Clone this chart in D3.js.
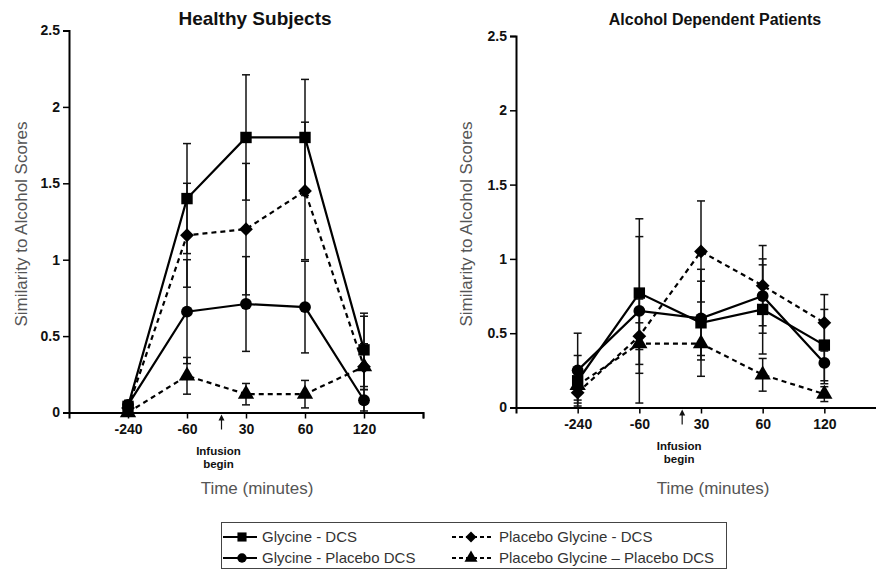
<!DOCTYPE html>
<html>
<head>
<meta charset="utf-8">
<script src="https://cdn.jsdelivr.net/npm/d3@7"></script>
<style>
  body { margin: 0; background: #fff; }
  svg { font-family: "Liberation Sans", Arial, sans-serif; }
</style>
</head>
<body>
<svg id="chart"></svg>
<script>
/* Données */
const timepoints = ['-240', '-60', '30', '60', '120']
const yTicks = [0, 0.5, 1, 1.5, 2, 2.5]
const seriesNames = ['Glycine - DCS', 'Glycine - Placebo DCS', 'Placebo Glycine - DCS', 'Placebo Glycine \u2013 Placebo DCS']

// Healthy subjects : moyennes et erreurs
const hGlyDcs = [0.04, 1.40, 1.80, 1.80, 0.41]
const hGlyDcsErr = [0.03, 0.36, 0.41, 0.38, 0.24]
const hGlyPla = [0.05, 0.66, 0.71, 0.69, 0.08]
const hGlyPlaErr = [0.03, 0.34, 0.31, 0.30, 0.07]
const hPlaDcs = [0.03, 1.16, 1.20, 1.45, 0.30]
const hPlaDcsErr = [0.02, 0.34, 0.43, 0.45, 0.33]
const hPlaPla = [0.00, 0.24, 0.12, 0.12, 0.30]
const hPlaPlaErr = [0.02, 0.12, 0.07, 0.09, 0.15]

// Alcohol dependent patients : moyennes et erreurs
const aGlyDcs = [0.18, 0.77, 0.57, 0.66, 0.42]
const aGlyDcsErr = [0.17, 0.38, 0.36, 0.30, 0.24]
const aGlyPla = [0.25, 0.65, 0.60, 0.75, 0.30]
const aGlyPlaErr = [0.25, 0.62, 0.25, 0.25, 0.14]
const aPlaDcs = [0.10, 0.48, 1.05, 0.82, 0.57]
const aPlaDcsErr = [0.07, 0.25, 0.34, 0.27, 0.19]
const aPlaPla = [0.15, 0.43, 0.43, 0.22, 0.09]
const aPlaPlaErr = [0.10, 0.14, 0.11, 0.11, 0.05]

const width = 876, height = 570

// style de chaque série : trait plein / pointillé, marqueur
const styles = [
  {dash: null, shape: 'square'},
  {dash: null, shape: 'circle'},
  {dash: '5,4', shape: 'diamond'},
  {dash: '5,4', shape: 'triangle'}
]

const svg = d3.select('#chart').attr('width', width).attr('height', height)

/* Dessine un marqueur */
const marker = (g, shape, x, y, k) => {
  let sym
  if (shape === 'square') sym = d3.symbol(d3.symbolSquare, 130 * k * k)
  else if (shape === 'circle') sym = d3.symbol(d3.symbolCircle, 110 * k * k)
  else if (shape === 'diamond') sym = d3.symbol(d3.symbolSquare, 95 * k * k)
  else sym = d3.symbol(d3.symbolTriangle, 115 * k * k)
  g.append('path')
    .attr('d', sym())
    .attr('fill', '#000')
    .attr('transform', 'translate(' + x + ',' + y + ')' + (shape === 'diamond' ? ' rotate(45)' : ''))
}

/* Dessine un panneau complet */
const drawPanel = (p) => {
  const g = svg.append('g')

  const xScale = d3.scaleLinear().domain([0, 6]).range([p.x0, p.x1])
  const yScale = d3.scaleLinear().domain([0, 2.5]).range([p.y0, p.y1])

  // axe y
  const yAxis = d3.axisLeft(yScale)
    .tickValues(yTicks)
    .tickFormat(d3.format('~g'))
    .tickSizeOuter(0)
    .tickSize(6)
  const gy = g.append('g').attr('transform', 'translate(' + p.x0 + ',0)').call(yAxis)
  gy.select('.domain').attr('stroke-width', 2)
  gy.selectAll('.tick line').attr('stroke-width', 1.5)
  gy.selectAll('text').attr('font-size', 14).attr('font-weight', 'bold').attr('fill', '#111')
    .attr('font-family', '"Liberation Sans", Arial, sans-serif')

  // axe x
  const xAxis = d3.axisBottom(xScale)
    .tickValues([1, 2, 3, 4, 5, 6])
    .tickFormat((d) => timepoints[d - 1] || '')
    .tickSizeOuter(0)
    .tickSize(6)
  const gx = g.append('g').attr('transform', 'translate(0,' + p.y0 + ')').call(xAxis)
  gx.select('.domain').attr('stroke-width', 2)
  gx.selectAll('.tick line').attr('stroke-width', 1.5)
  gx.selectAll('text').attr('font-size', 14).attr('font-weight', 'bold').attr('fill', '#111')
    .attr('font-family', '"Liberation Sans", Arial, sans-serif')
    .attr('dy', '0.9em')

  // barres d'erreur
  p.series.forEach((s, i) => {
    s.mean.forEach((m, j) => {
      const x = xScale(j + 1)
      const lo = Math.max(0, m - s.err[j]), hi = m + s.err[j]
      g.append('line').attr('x1', x).attr('x2', x)
        .attr('y1', yScale(lo)).attr('y2', yScale(hi))
        .attr('stroke', '#111').attr('stroke-width', 1.5)
      ;[lo, hi].forEach((v) => {
        if (v <= 0) return
        g.append('line').attr('x1', x - 4).attr('x2', x + 4)
          .attr('y1', yScale(v)).attr('y2', yScale(v))
          .attr('stroke', '#111').attr('stroke-width', 1.5)
      })
    })
  })

  // lignes
  const line = d3.line().x((d, j) => xScale(j + 1)).y((d) => yScale(d))
  p.series.forEach((s, i) => {
    g.append('path')
      .attr('d', line(s.mean))
      .attr('fill', 'none')
      .attr('stroke', '#000')
      .attr('stroke-width', 2.2)
      .attr('stroke-dasharray', styles[i].dash)
  })

  // marqueurs
  p.series.forEach((s, i) => {
    s.mean.forEach((m, j) => marker(g, styles[i].shape, xScale(j + 1), yScale(m), 1))
  })

  // titre
  g.append('text')
    .attr('x', p.titleX).attr('y', p.titleY)
    .attr('text-anchor', 'middle')
    .attr('font-size', p.titleSize).attr('font-weight', 'bold').attr('fill', '#111')
    .text(p.title)

  // titre axe y
  g.append('text')
    .attr('transform', 'translate(' + p.yLabelX + ',224) rotate(-90)')
    .attr('text-anchor', 'middle')
    .attr('font-size', 17).attr('fill', '#555')
    .text('Similarity to Alcohol Scores')

  // titre axe x
  g.append('text')
    .attr('x', p.timeX).attr('y', 494)
    .attr('text-anchor', 'middle')
    .attr('font-size', 17).attr('fill', '#555')
    .text('Time (minutes)')

  // flèche début de perfusion
  const ax = (xScale(2) + xScale(3)) / 2 - 1 + p.arrowShift
  g.append('line').attr('x1', ax).attr('x2', ax)
    .attr('y1', p.y0 + 17).attr('y2', p.y0 + 6)
    .attr('stroke', '#111').attr('stroke-width', 1.2)
  g.append('path')
    .attr('d', 'M' + (ax - 3) + ',' + (p.y0 + 8) + 'L' + ax + ',' + (p.y0 + 2) + 'L' + (ax + 3) + ',' + (p.y0 + 8) + 'Z')
    .attr('fill', '#111')
  g.append('text')
    .attr('x', ax - 3).attr('y', p.y0 + 42)
    .attr('text-anchor', 'middle')
    .attr('font-size', 11.5).attr('font-weight', 'bold').attr('fill', '#111')
    .text('Infusion')
  g.append('text')
    .attr('x', ax - 3).attr('y', p.y0 + 55)
    .attr('text-anchor', 'middle')
    .attr('font-size', 11.5).attr('font-weight', 'bold').attr('fill', '#111')
    .text('begin')
}

drawPanel({
  x0: 69, x1: 423, y0: 412.5, y1: 30.5,
  title: 'Healthy Subjects', titleX: 255, titleY: 25, titleSize: 19,
  yLabelX: 27, timeX: 257, arrowShift: 6,
  series: [
    {mean: hGlyDcs, err: hGlyDcsErr},
    {mean: hGlyPla, err: hGlyPlaErr},
    {mean: hPlaDcs, err: hPlaDcsErr},
    {mean: hPlaPla, err: hPlaPlaErr}
  ]
})

drawPanel({
  x0: 516, x1: 886, y0: 407.5, y1: 36,
  title: 'Alcohol Dependent Patients', titleX: 715, titleY: 25, titleSize: 16,
  yLabelX: 472, timeX: 713, arrowShift: 13,
  series: [
    {mean: aGlyDcs, err: aGlyDcsErr},
    {mean: aGlyPla, err: aGlyPlaErr},
    {mean: aPlaDcs, err: aPlaDcsErr},
    {mean: aPlaPla, err: aPlaPlaErr}
  ]
})

/* Légende */
const legend = svg.append('g')
legend.append('rect')
  .attr('x', 221.5).attr('y', 522.5).attr('width', 505).attr('height', 46)
  .attr('fill', 'none').attr('stroke', '#444').attr('stroke-width', 1)

const legendPos = [
  {lx: 223, rx: 257, mx: 242, tx: 262, y: 537},
  {lx: 223, rx: 257, mx: 242, tx: 262, y: 558},
  {lx: 452, rx: 494, mx: 471, tx: 499, y: 537},
  {lx: 452, rx: 494, mx: 471, tx: 499, y: 558}
]
seriesNames.forEach((name, i) => {
  const lp = legendPos[i]
  legend.append('line')
    .attr('x1', lp.lx).attr('x2', lp.rx).attr('y1', lp.y).attr('y2', lp.y)
    .attr('stroke', '#000').attr('stroke-width', 2)
    .attr('stroke-dasharray', styles[i].dash ? '4,3' : null)
  marker(legend, styles[i].shape, lp.mx, lp.y, 0.8)
  legend.append('text')
    .attr('x', lp.tx).attr('y', lp.y + 5)
    .attr('font-size', 15).attr('fill', '#333')
    .text(name)
})
</script>
</body>
</html>
